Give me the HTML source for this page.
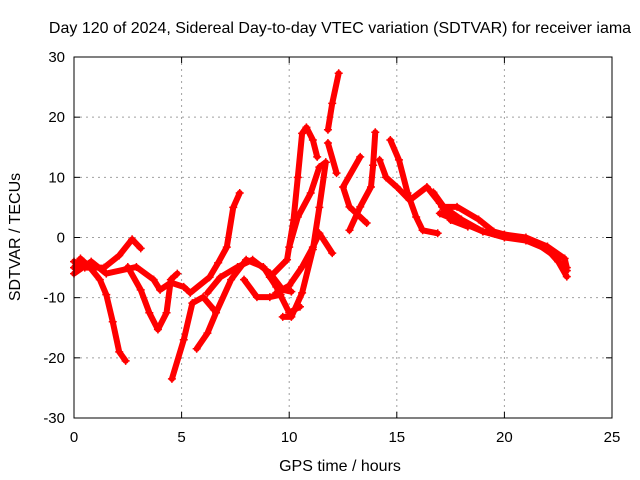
<!DOCTYPE html>
<html><head><meta charset="utf-8"><style>
body{margin:0;background:#fff}
svg{display:block;font-family:"Liberation Sans",sans-serif}
</style></head><body>
<svg id="chart" width="640" height="480" viewBox="0 0 640 480">
<text x="340" y="33" font-size="16" text-anchor="middle">Day 120 of 2024, Sidereal Day-to-day VTEC variation (SDTVAR) for receiver iama</text>
<g id="grid"></g>
<g id="traces"></g>
<rect x="74" y="57" width="538" height="361" fill="none" stroke="#000" stroke-width="1"/>
<g id="ticks"></g>
<text x="340" y="471" font-size="16" text-anchor="middle">GPS time / hours</text>
<text x="0" y="0" font-size="16" text-anchor="middle" transform="translate(20,237) rotate(-90)">SDTVAR / TECUs</text>
</svg>
<script>
const xTicks=[0,5,10,15,20,25];
const yTicks=[-30,-20,-10,0,10,20,30];
const traceA=[[0,-5],[0.3,-3.5],[0.7,-4.8],[1.2,-7],[1.5,-9.5],[1.8,-14],[2.1,-19],[2.4,-20.5]];
const traceB=[[0,-4],[0.5,-5],[1.4,-5],[2.1,-3],[2.7,-0.3],[3.1,-1.8]];
const traceC=[[2.5,-4.9],[3.1,-8.7],[3.5,-12.5],[3.9,-15.3],[4.3,-12.5],[4.5,-7],[4.8,-6]];
const traceD=[[0,-6],[0.8,-4],[1.5,-6],[2.9,-4.9],[3.7,-7],[4,-8.7],[4.5,-7.5],[5.1,-8.2],[5.4,-9.2],[6.3,-6.6],[6.7,-4.2],[7.1,-1.6],[7.4,5],[7.7,7.4]];
const traceE=[[4.55,-23.5],[5.1,-17],[5.5,-10.9],[6,-9.9],[6.5,-12]];
const traceF=[[5.7,-18.5],[6.2,-15.9],[6.6,-12.5],[7.3,-7],[8,-3.7],[8.8,-4.9],[9.4,-8.2],[10,-12.5],[10.5,-11.5]];
const traceG=[[6.2,-9.2],[6.8,-6.6],[7.6,-4.9],[8.3,-3.7],[9.1,-5.9],[9.7,-8.7],[10.1,-9]];
const traceH=[[7.9,-7],[8.5,-9.9],[9.1,-9.9],[9.6,-9.5]];
const traceI=[[9.1,-6.6],[9.9,-3.7],[10.2,2.9],[10.4,10],[10.6,17.3],[10.8,18.3],[11.1,16.2],[11.3,13.4]];
const traceJ=[[9.4,-9.2],[10,-8],[10.6,-4.9],[11.1,-1.6],[11.4,0.7],[12,-2.6]];
const traceK=[[9.7,-13.2],[10.1,-13.2],[10.6,-9.2],[11.1,-2],[11.4,5],[11.7,12.5]];
const traceL=[[10,-1.6],[10.4,3.4],[11,7.4],[11.4,11.7],[11.7,12.5]];
const traceM=[[11.8,17.9],[12,22.3],[12.3,27.3]];
const traceN=[[11.8,15.7],[12.2,10.7]];
const traceO=[[13.3,13.4],[12.5,8.4],[12.8,5.1],[13.6,2.4]];
const traceP=[[12.8,1.2],[13.3,5.1],[13.8,8.4],[13.9,12],[14,17.5]];
const traceQ=[[14.2,12.9],[14.5,10],[15,8.4],[15.6,6.2],[16.4,8.4],[17,5.7],[17.5,2.9],[18.3,1.8]];
const traceR=[[14.7,16.2],[15.1,12.9],[15.5,7.4],[15.9,3.4],[16.2,1.2],[16.9,0.7]];
const traceS=[[16.7,7.5],[17.2,5],[18,3],[19,1],[20,0.5],[21,0],[22,-1.5],[22.8,-3.5],[22.9,-5]];
const traceT=[[17,4],[18,2.5],[19,1],[20,0],[21,-0.5],[22,-2],[22.5,-4],[22.9,-6.5]];
const traceU=[[17.1,5.1],[17.8,5.1],[18.8,3],[19.5,1],[20.5,0],[21.5,-1],[22.3,-3],[22.9,-5.5]];
const traces=[traceA,traceB,traceC,traceD,traceE,traceF,traceG,traceH,traceI,traceJ,traceK,traceL,traceM,traceN,traceO,traceP,traceQ,traceR,traceS,traceT,traceU];

const X0=74,X1=612,Y0=418,Y1=57;
const xs=t=>X0+(t-0)/(25-0)*(X1-X0);
const ys=v=>Y0-(v+30)/60*(Y0-Y1);
const NS="http://www.w3.org/2000/svg";
const grid=document.getElementById('grid'),ticks=document.getElementById('ticks'),tg=document.getElementById('traces');
function mk(tag,at,parent){const e=document.createElementNS(NS,tag);for(const k in at)e.setAttribute(k,at[k]);parent.appendChild(e);return e;}
xTicks.forEach(t=>{
  const x=xs(t);
  if(t>0&&t<25){const g=mk('line',{x1:x,x2:x,y1:Y1,y2:Y0,stroke:'#a0a0a0','stroke-dasharray':'2,4'},grid);
  
  }
  const l=mk('text',{x:x,y:Y0+24,'font-size':15,'text-anchor':'middle'},ticks);l.textContent=t;
  
  
  mk('line',{x1:x,x2:x,y1:Y0,y2:Y0-6,stroke:'#000'},ticks);
  mk('line',{x1:x,x2:x,y1:Y1,y2:Y1+6,stroke:'#000'},ticks);
});
yTicks.forEach(v=>{
  const y=ys(v);
  if(v>-30&&v<30){const g=mk('line',{x1:X0,x2:X1,y1:y,y2:y,stroke:'#a0a0a0','stroke-dasharray':'2,4'},grid);
  
  }
  const l=mk('text',{x:X0-9,y:y+5,'font-size':15,'text-anchor':'end'},ticks);l.textContent=v;
  
  
  mk('line',{x1:X0,x2:X0+6,y1:y,y2:y,stroke:'#000'},ticks);
  mk('line',{x1:X1,x2:X1-6,y1:y,y2:y,stroke:'#000'},ticks);
});
traces.forEach(tr=>{
  const p=mk('polyline',{points:tr.map(d=>xs(d[0])+','+ys(d[1])).join(' '),fill:'none',stroke:'#ff0000','stroke-width':6,'stroke-linejoin':'round','stroke-linecap':'round'},tg);
  
  
  tr.forEach(d=>{
    const m=mk('path',{d:`M${xs(d[0])-4},${ys(d[1])}h8M${xs(d[0])},${ys(d[1])-4}v8`,stroke:'#ff0000','stroke-width':1.5},tg);
    
    
  });
});
</script>
</body></html>
